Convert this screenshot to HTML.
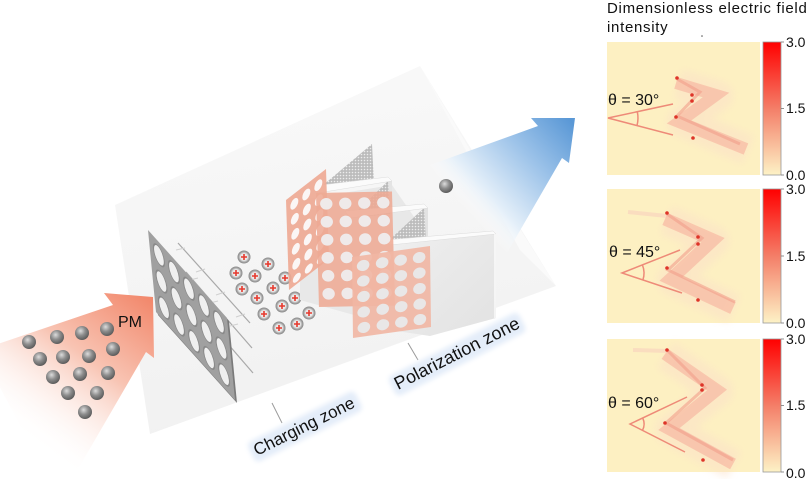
<!DOCTYPE html>
<html><head><meta charset="utf-8">
<style>
html,body{margin:0;padding:0;background:#fff;}
svg{display:block;}
text{font-family:"Liberation Sans",sans-serif;}
</style></head><body>
<svg width="810" height="479" viewBox="0 0 810 479" xmlns="http://www.w3.org/2000/svg">
<defs>
 <linearGradient id="redArr" gradientUnits="userSpaceOnUse" x1="150" y1="300" x2="40" y2="450">
  <stop offset="0" stop-color="#f2896d"/>
  <stop offset="0.45" stop-color="#f8c4b3"/>
  <stop offset="1" stop-color="#ffffff" stop-opacity="0"/>
 </linearGradient>
 <linearGradient id="blueArr" gradientUnits="userSpaceOnUse" x1="572" y1="122" x2="470" y2="215">
  <stop offset="0" stop-color="#5a98d6"/>
  <stop offset="0.4" stop-color="#9dc3e9"/>
  <stop offset="0.8" stop-color="#e4eff9"/>
  <stop offset="1" stop-color="#ffffff" stop-opacity="0"/>
 </linearGradient>
 <linearGradient id="boxg" gradientUnits="userSpaceOnUse" x1="300" y1="100" x2="350" y2="420">
  <stop offset="0" stop-color="#f8f8f8"/>
  <stop offset="1" stop-color="#f1f1f1"/>
 </linearGradient>
 <linearGradient id="cbar" x1="0" y1="0" x2="0" y2="1">
  <stop offset="0" stop-color="#ff0000"/>
  <stop offset="0.5" stop-color="#f47e68"/>
  <stop offset="1" stop-color="#fdf2c6"/>
 </linearGradient>
 <linearGradient id="w3g" x1="0" y1="0" x2="1" y2="1">
  <stop offset="0" stop-color="#efefef"/>
  <stop offset="1" stop-color="#e2e2e2"/>
 </linearGradient>
 <radialGradient id="npg" cx="0.4" cy="0.35" r="0.65">
  <stop offset="0" stop-color="#dcdcdc"/>
  <stop offset="0.5" stop-color="#8e8e8e"/>
  <stop offset="1" stop-color="#5c5c5c"/>
 </radialGradient>
 <radialGradient id="cpg" cx="0.5" cy="0.5" r="0.5">
  <stop offset="0" stop-color="#f6f6f6"/>
  <stop offset="0.55" stop-color="#e6e6e6"/>
  <stop offset="0.78" stop-color="#a6a6a6"/>
  <stop offset="1" stop-color="#878787"/>
 </radialGradient>
 <pattern id="dots" width="3" height="3" patternUnits="userSpaceOnUse">
  <rect width="3" height="3" fill="#bcbcbc"/>
  <circle cx="1.5" cy="1.5" r="0.8" fill="#ececec"/>
 </pattern>
 <filter id="blur2" x="-20%" y="-50%" width="140%" height="200%"><feGaussianBlur stdDeviation="2.5"/></filter>
 <filter id="blur4" x="-30%" y="-30%" width="160%" height="160%"><feGaussianBlur stdDeviation="4"/></filter>
 <g id="np"><circle r="7" fill="url(#npg)"/></g>
 <g id="cp"><circle r="6.5" fill="url(#cpg)"/><path d="M-3,0H3M0,-3V3" stroke="#e5392d" stroke-width="1.6"/></g>
</defs>

<!-- translucent box -->
<polygon points="115,205 420,66 556,286 150,434" fill="url(#boxg)"/>
<polygon points="420,66 470,150 556,286 520,250" fill="#fafafa"/>

<!-- blue arrow -->
<polygon points="575,118 531,118 538,126 430,165 500,265 562,158 569,163" fill="url(#blueArr)"/>

<!-- red arrow -->
<polygon points="153,297 104,293 113,305 -20,350 60,500 146,352 154,358" fill="url(#redArr)"/>

<!-- PM particles -->
<use href="#np" x="29" y="342"/><use href="#np" x="57" y="337"/><use href="#np" x="82" y="333"/><use href="#np" x="107" y="329"/>
<use href="#np" x="40" y="359"/><use href="#np" x="63" y="357"/><use href="#np" x="89" y="356"/><use href="#np" x="113" y="349"/>
<use href="#np" x="53" y="377"/><use href="#np" x="80" y="374"/><use href="#np" x="108" y="373"/>
<use href="#np" x="68" y="393"/><use href="#np" x="97" y="393"/>
<use href="#np" x="85" y="412"/>
<text x="118" y="327" font-size="16" fill="#111">PM</text>

<!-- wires -->
<g stroke="#a9a9a9" stroke-width="1.2">
 <line x1="178" y1="243" x2="250" y2="323"/>
 <line x1="186" y1="272" x2="252" y2="348"/>
 <line x1="190" y1="300" x2="253" y2="373"/>
</g>
<g stroke="#d0d0d0" stroke-width="1">
 <line x1="176" y1="250" x2="185" y2="248"/><line x1="196" y1="272" x2="205" y2="269"/><line x1="216" y1="295" x2="225" y2="292"/><line x1="236" y1="317" x2="245" y2="314"/>
 <line x1="190" y1="280" x2="198" y2="278"/><line x1="210" y1="303" x2="218" y2="301"/><line x1="230" y1="326" x2="238" y2="324"/>
</g>

<!-- filter plate -->
<g transform="matrix(0.79,0.88,0.08,0.82,150,233)">
 <rect x="0" y="0" width="100" height="100" fill="#7a7a7a"/>
</g>
<g transform="matrix(0.79,0.88,0.08,0.82,148,230)">
 <rect x="0" y="0" width="100" height="100" fill="#a0a0a0"/>
 <g fill="#efefef" stroke="#8a8a8a" stroke-width="1.5">
  <ellipse cx="12" cy="18" rx="6.8" ry="11.5"/><ellipse cx="31" cy="18" rx="6.8" ry="11.5"/><ellipse cx="50" cy="18" rx="6.8" ry="11.5"/><ellipse cx="69" cy="18" rx="6.8" ry="11.5"/><ellipse cx="88" cy="18" rx="6.8" ry="11.5"/>
  <ellipse cx="12" cy="50" rx="6.8" ry="11.5"/><ellipse cx="31" cy="50" rx="6.8" ry="11.5"/><ellipse cx="50" cy="50" rx="6.8" ry="11.5"/><ellipse cx="69" cy="50" rx="6.8" ry="11.5"/><ellipse cx="88" cy="50" rx="6.8" ry="11.5"/>
  <ellipse cx="12" cy="82" rx="6.8" ry="11.5"/><ellipse cx="31" cy="82" rx="6.8" ry="11.5"/><ellipse cx="50" cy="82" rx="6.8" ry="11.5"/><ellipse cx="69" cy="82" rx="6.8" ry="11.5"/><ellipse cx="88" cy="82" rx="6.8" ry="11.5"/>
 </g>
</g>

<!-- charged particles -->
<use href="#cp" x="244" y="257"/><use href="#cp" x="268" y="264"/><use href="#cp" x="236" y="273"/><use href="#cp" x="255" y="276"/>
<use href="#cp" x="285" y="278"/><use href="#cp" x="242" y="289"/><use href="#cp" x="273" y="288"/><use href="#cp" x="295" y="298"/>
<use href="#cp" x="257" y="298"/><use href="#cp" x="282" y="306"/><use href="#cp" x="309" y="313"/><use href="#cp" x="264" y="314"/>
<use href="#cp" x="279" y="328"/><use href="#cp" x="297" y="324"/>

<!-- zigzag gray/white panels -->
<polygon points="300,200 392,185 430,240 430,336 300,300" fill="#e8e8e8"/>
<polygon points="322,186 372,144 374,184" fill="url(#dots)"/>
<polygon points="388,177 392,181 392,214 388,214" fill="#e4e4e4"/>
<polygon points="350,218 388,181 390,214" fill="url(#dots)"/>
<polygon points="313,186 388,177 392,181 318,193" fill="#fbfbfb" stroke="#dcdcdc" stroke-width="0.5"/>
<polygon points="424,204 428,208 428,241 424,241" fill="#e2e2e2"/>
<polygon points="386,243 424,208 426,240" fill="url(#dots)"/>
<polygon points="345,211 424,204 428,208 350,218" fill="#fbfbfb" stroke="#dcdcdc" stroke-width="0.5"/>
<polygon points="390,244 496,234 496,318 430,336 390,330" fill="url(#w3g)"/>
<polygon points="385,240 493,231 496,234 390,245" fill="#fbfbfb" stroke="#dcdcdc" stroke-width="0.5"/>
<line x1="495" y1="234" x2="495" y2="318" stroke="#fafafa" stroke-width="1.5"/>

<!-- pink plate A -->
<g transform="matrix(1,-0.775,0.0333,1,286,200)">
 <rect x="0" y="0" width="40" height="90" fill="#eea892" fill-opacity="0.9"/>
 <g fill="#fbf6f5">
  <ellipse cx="8" cy="10" rx="4" ry="5"/><ellipse cx="20" cy="10" rx="4" ry="5"/><ellipse cx="32" cy="10" rx="4" ry="5"/>
  <ellipse cx="8" cy="25" rx="4" ry="5"/><ellipse cx="20" cy="25" rx="4" ry="5"/><ellipse cx="32" cy="25" rx="4" ry="5"/>
  <ellipse cx="8" cy="40" rx="4" ry="5"/><ellipse cx="20" cy="40" rx="4" ry="5"/><ellipse cx="32" cy="40" rx="4" ry="5"/>
  <ellipse cx="8" cy="55" rx="4" ry="5"/><ellipse cx="20" cy="55" rx="4" ry="5"/><ellipse cx="32" cy="55" rx="4" ry="5"/>
  <ellipse cx="8" cy="70" rx="4" ry="5"/><ellipse cx="20" cy="70" rx="4" ry="5"/><ellipse cx="32" cy="70" rx="4" ry="5"/>
  <ellipse cx="8" cy="84" rx="4" ry="4"/><ellipse cx="20" cy="84" rx="4" ry="4"/><ellipse cx="32" cy="84" rx="4" ry="4"/>
 </g>
</g>
<!-- pink plate B -->
<g transform="matrix(1,-0.02,0.026,1,316,193)">
 <rect x="0" y="0" width="76" height="114" fill="#eeaa94" fill-opacity="0.88"/>
 <g fill="#efeaea">
  <ellipse cx="10" cy="11" rx="6.2" ry="5.8"/><ellipse cx="29" cy="11" rx="6.2" ry="5.8"/><ellipse cx="48" cy="11" rx="6.2" ry="5.8"/><ellipse cx="67" cy="11" rx="6.2" ry="5.8"/>
  <ellipse cx="10" cy="29" rx="6.2" ry="5.8"/><ellipse cx="29" cy="29" rx="6.2" ry="5.8"/><ellipse cx="48" cy="29" rx="6.2" ry="5.8"/><ellipse cx="67" cy="29" rx="6.2" ry="5.8"/>
  <ellipse cx="10" cy="47" rx="6.2" ry="5.8"/><ellipse cx="29" cy="47" rx="6.2" ry="5.8"/><ellipse cx="48" cy="47" rx="6.2" ry="5.8"/><ellipse cx="67" cy="47" rx="6.2" ry="5.8"/>
  <ellipse cx="10" cy="65" rx="6.2" ry="5.8"/><ellipse cx="29" cy="65" rx="6.2" ry="5.8"/><ellipse cx="48" cy="65" rx="6.2" ry="5.8"/><ellipse cx="67" cy="65" rx="6.2" ry="5.8"/>
  <ellipse cx="10" cy="83" rx="6.2" ry="5.8"/><ellipse cx="29" cy="83" rx="6.2" ry="5.8"/><ellipse cx="48" cy="83" rx="6.2" ry="5.8"/><ellipse cx="67" cy="83" rx="6.2" ry="5.8"/>
  <ellipse cx="10" cy="101" rx="6.2" ry="5.8"/><ellipse cx="29" cy="101" rx="6.2" ry="5.8"/><ellipse cx="48" cy="101" rx="6.2" ry="5.8"/><ellipse cx="67" cy="101" rx="6.2" ry="5.8"/>
 </g>
</g>
<!-- pink plate C -->
<g transform="matrix(1,-0.141,0.0123,1,352,257)">
 <rect x="0" y="0" width="78" height="81" fill="#f1b6a3" fill-opacity="0.9"/>
 <g fill="#e9e7e7">
  <ellipse cx="11" cy="10" rx="6.3" ry="5.5"/><ellipse cx="30" cy="10" rx="6.3" ry="5.5"/><ellipse cx="48.5" cy="10" rx="6.3" ry="5.5"/><ellipse cx="67" cy="10" rx="6.3" ry="5.5"/>
  <ellipse cx="11" cy="25.5" rx="6.3" ry="5.5"/><ellipse cx="30" cy="25.5" rx="6.3" ry="5.5"/><ellipse cx="48.5" cy="25.5" rx="6.3" ry="5.5"/><ellipse cx="67" cy="25.5" rx="6.3" ry="5.5"/>
  <ellipse cx="11" cy="41" rx="6.3" ry="5.5"/><ellipse cx="30" cy="41" rx="6.3" ry="5.5"/><ellipse cx="48.5" cy="41" rx="6.3" ry="5.5"/><ellipse cx="67" cy="41" rx="6.3" ry="5.5"/>
  <ellipse cx="11" cy="56.5" rx="6.3" ry="5.5"/><ellipse cx="30" cy="56.5" rx="6.3" ry="5.5"/><ellipse cx="48.5" cy="56.5" rx="6.3" ry="5.5"/><ellipse cx="67" cy="56.5" rx="6.3" ry="5.5"/>
  <ellipse cx="11" cy="72" rx="6.3" ry="5.5"/><ellipse cx="30" cy="72" rx="6.3" ry="5.5"/><ellipse cx="48.5" cy="72" rx="6.3" ry="5.5"/><ellipse cx="67" cy="72" rx="6.3" ry="5.5"/>
 </g>
</g>

<!-- escaping particle -->
<use href="#np" x="446" y="186"/>

<!-- zone labels -->
<line x1="272" y1="403" x2="282" y2="423" stroke="#9a9a9a" stroke-width="1"/>
<line x1="408" y1="343" x2="418" y2="360" stroke="#9a9a9a" stroke-width="1"/>
<g transform="translate(257,456) rotate(-26.5)">
 <rect x="-4" y="-16" width="120" height="22" rx="5" fill="#e4edf9" filter="url(#blur2)"/>
 <text x="0" y="0" font-size="17" fill="#111">Charging zone</text>
</g>
<g transform="translate(398,390) rotate(-27)">
 <rect x="-4" y="-16" width="146" height="22" rx="5" fill="#e4edf9" filter="url(#blur2)"/>
 <text x="0" y="0" font-size="18" fill="#111">Polarization zone</text>
</g>

<!-- right side title -->
<text x="607" y="13" font-size="15" letter-spacing="0.7" fill="#111">Dimensionless electric field</text>
<text x="607" y="32" font-size="15" letter-spacing="0.7" fill="#111">intensity</text>
<circle cx="702" cy="36" r="0.8" fill="#555"/>

<!-- panel 1 -->
<rect x="607" y="42" width="153" height="133" fill="#fdf0c2"/>
<polyline points="678,84 718,96 682,122 748,150" fill="none" stroke="#fbe1c8" stroke-width="30" stroke-linejoin="round" opacity="0.55" filter="url(#blur4)"/>
<polyline points="676,83 716,95 679,122 746,149" fill="none" stroke="#f8bea6" stroke-width="12" opacity="0.8"/>
<polyline points="677,79 700,92 677,116 740,144" fill="none" stroke="#f29e8b" stroke-width="3" opacity="0.6"/>
<g fill="#de3428"><circle cx="677" cy="78" r="1.8"/><circle cx="692" cy="95" r="1.8"/><circle cx="692" cy="101" r="1.8"/><circle cx="676" cy="117" r="1.8"/><circle cx="693" cy="138" r="1.8"/></g>
<g stroke="#ee8a78" stroke-width="1.5" fill="none"><path d="M673,104 L608,118 L673,135"/><path d="M637.3,111.7 A30,30 0 0 1 637,125.6"/></g>
<text x="608" y="105" font-size="16" fill="#111">θ = 30°</text>
<rect x="763" y="42" width="18" height="133" fill="url(#cbar)" stroke="#999" stroke-width="0.8"/>
<g stroke="#777" stroke-width="0.8"><line x1="781" y1="42" x2="784" y2="42"/><line x1="781" y1="108.5" x2="784" y2="108.5"/><line x1="781" y1="175" x2="784" y2="175"/></g>
<g font-size="14" fill="#111"><text x="786" y="47">3.0</text><text x="786" y="113">1.5</text><text x="786" y="180">0.0</text></g>

<!-- panel 2 -->
<rect x="607" y="189" width="153" height="134" fill="#fdf0c2"/>
<polyline points="666,220 714,241 672,280 734,309" fill="none" stroke="#fbe1c8" stroke-width="30" stroke-linejoin="round" opacity="0.55" filter="url(#blur4)"/>
<line x1="628" y1="212" x2="667" y2="216" stroke="#f9d6bf" stroke-width="4" opacity="0.7"/>
<polyline points="665,219 713,240 671,279 733,308" fill="none" stroke="#f8bea6" stroke-width="13" opacity="0.8"/>
<polyline points="667,214 702,238 668,270 735,302" fill="none" stroke="#f29e8b" stroke-width="3" opacity="0.6"/>
<g fill="#de3428"><circle cx="667" cy="213" r="1.8"/><circle cx="698" cy="237" r="1.8"/><circle cx="698" cy="244" r="1.8"/><circle cx="667" cy="268" r="1.8"/><circle cx="698" cy="300" r="1.8"/></g>
<g stroke="#ee8a78" stroke-width="1.5" fill="none"><path d="M680,250 L622,273 L682,293"/><path d="M642.4,264.9 A22,22 0 0 1 642.9,280"/></g>
<text x="609" y="257" font-size="16" fill="#111">θ = 45°</text>
<rect x="763" y="189" width="18" height="134" fill="url(#cbar)" stroke="#999" stroke-width="0.8"/>
<g stroke="#777" stroke-width="0.8"><line x1="781" y1="189" x2="784" y2="189"/><line x1="781" y1="256" x2="784" y2="256"/><line x1="781" y1="323" x2="784" y2="323"/></g>
<g font-size="14" fill="#111"><text x="786" y="194">3.0</text><text x="786" y="261">1.5</text><text x="786" y="328">0.0</text></g>

<!-- panel 3 -->
<rect x="607" y="339" width="153" height="133" fill="#fdf0c2"/>
<polyline points="666,355 718,391 670,430 734,465" fill="none" stroke="#fbe1c8" stroke-width="30" stroke-linejoin="round" opacity="0.55" filter="url(#blur4)"/>
<line x1="633" y1="350" x2="667" y2="351" stroke="#f9d6bf" stroke-width="4" opacity="0.7"/>
<polyline points="665,354 717,390 669,429 733,464" fill="none" stroke="#f8bea6" stroke-width="12" opacity="0.8"/>
<polyline points="667,350 705,388 666,423 733,460" fill="none" stroke="#f29e8b" stroke-width="3" opacity="0.6"/>
<g fill="#de3428"><circle cx="667" cy="350" r="1.8"/><circle cx="702" cy="385" r="1.8"/><circle cx="702" cy="390" r="1.8"/><circle cx="665" cy="423" r="1.8"/><circle cx="703" cy="460" r="1.8"/></g>
<g stroke="#ee8a78" stroke-width="1.5" fill="none"><path d="M687,397 L630,424 L685,452"/><path d="M642.7,418 A14,14 0 0 1 642.5,430.4"/></g>
<text x="608" y="408" font-size="16" fill="#111">θ = 60°</text>
<rect x="763" y="339" width="18" height="133" fill="url(#cbar)" stroke="#999" stroke-width="0.8"/>
<g stroke="#777" stroke-width="0.8"><line x1="781" y1="339" x2="784" y2="339"/><line x1="781" y1="405.5" x2="784" y2="405.5"/><line x1="781" y1="472" x2="784" y2="472"/></g>
<g font-size="14" fill="#111"><text x="786" y="344">3.0</text><text x="786" y="410">1.5</text><text x="786" y="478">0.0</text></g>
</svg>
</body></html>
